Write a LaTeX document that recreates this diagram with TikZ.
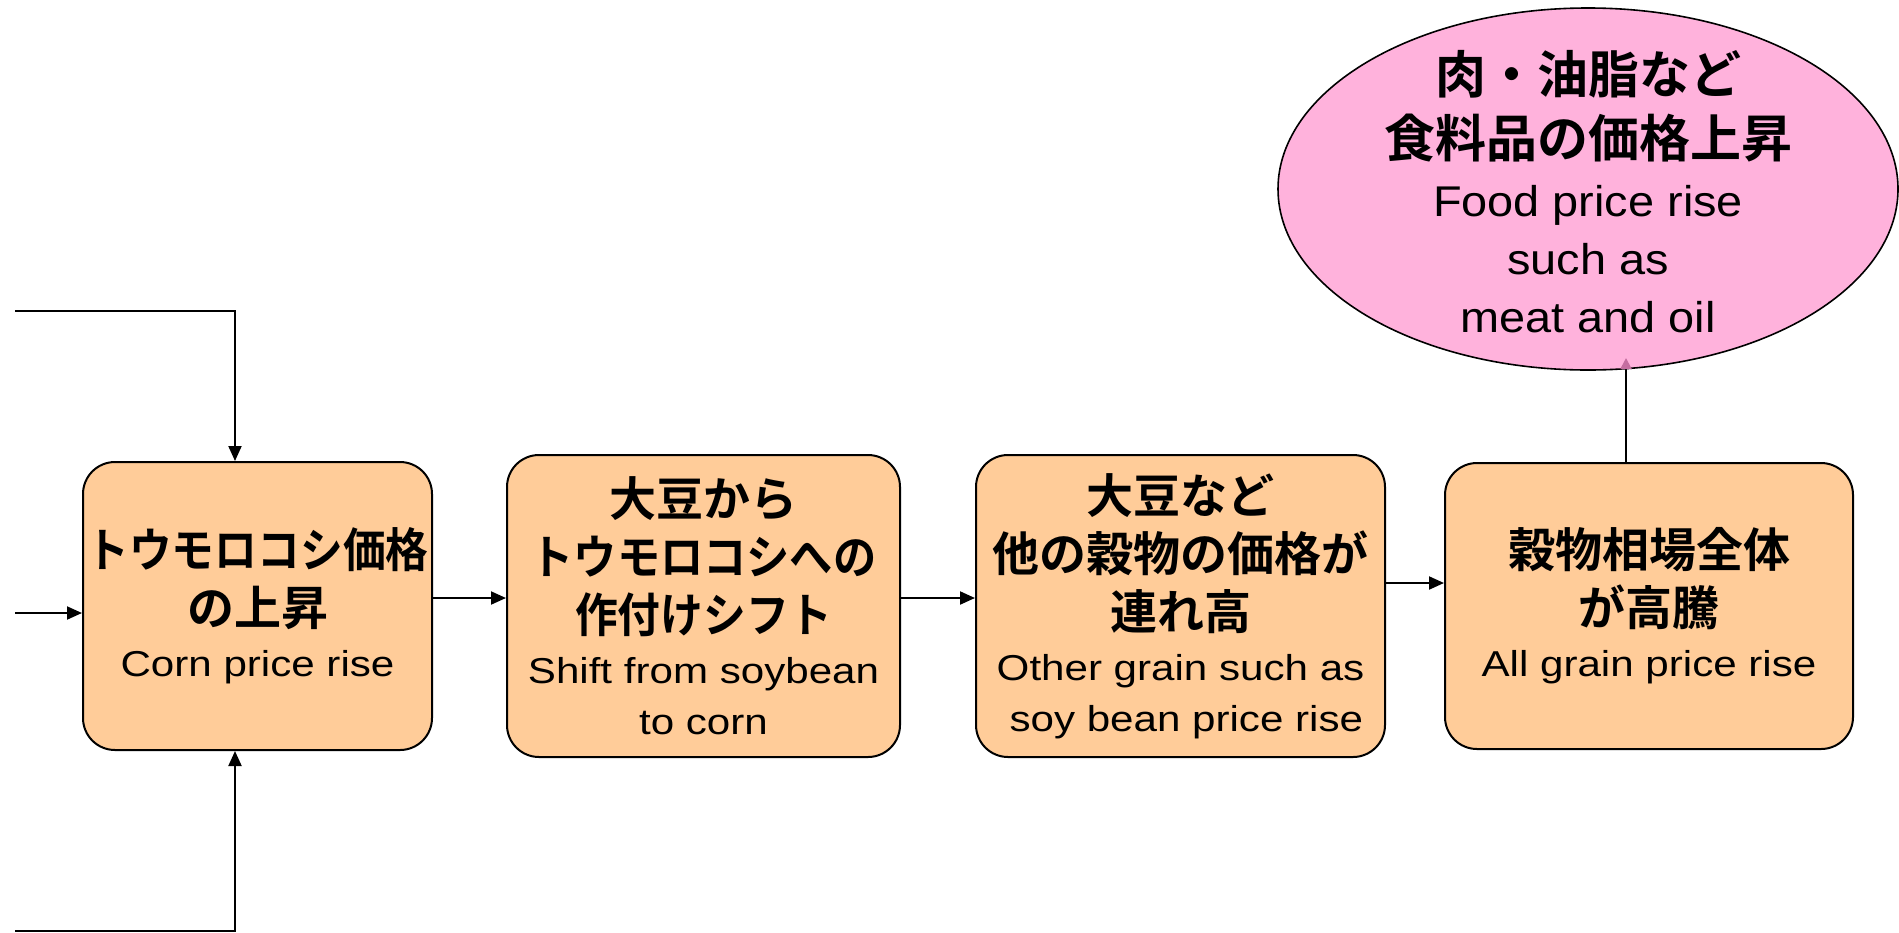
\documentclass[tikz,border=0pt]{standalone}
\usepackage{fontspec}
\setmainfont{Liberation Sans}
\newfontfamily\enbox{Liberation Sans}[FakeStretch=1.17]
\newfontfamily\enell{Liberation Sans}[FakeStretch=1.09]
\newfontfamily\jpfont{Noto Sans CJK JP}[BoldFont={Noto Sans CJK JP Bold}, CharacterWidth=Proportional]
\usetikzlibrary{arrows.meta,shapes.geometric,calc}
\definecolor{peach}{RGB}{255,204,153}
\definecolor{pinkfill}{RGB}{255,178,220}
\definecolor{tipcol}{RGB}{196,110,160}
\newcommand\jl{\jpfont\bfseries\fontsize{23.5pt}{29pt}\selectfont}
\newcommand\el{\enbox\mdseries\fontsize{18pt}{25pt}\selectfont}
\newcommand\jle{\jpfont\bfseries\fontsize{25.5pt}{32pt}\selectfont}
\newcommand\ele{\enell\mdseries\fontsize{21.5pt}{28.5pt}\selectfont}
\newcommand\nar[2]{\scalebox{#1}[1]{#2}}
\tikzset{
  box/.style={draw=black, line width=1pt, fill=peach, rounded corners=16pt,
    inner sep=0pt, align=center, font=\jl},
  food/.style={ellipse, draw=black, line width=0.8pt, fill=pinkfill,
    inner sep=0pt, minimum width=310pt, minimum height=181pt},
  foodtext/.style={align=center, inner sep=0pt, font=\jle},
  arr/.style={draw=black, line width=1pt, -{Triangle[length=7.5pt,width=6.5pt]}},
}
\begin{document}
\begin{tikzpicture}[x=0.5pt,y=-0.5pt]
\useasboundingbox (0,0) rectangle (1899,932);
\node[box, minimum width=174.5pt, minimum height=144pt] (b1) at (257.5,606)
  {\nar{0.91}{トウモロコシ価格}\\の上昇\\[-3.5pt]\el Corn price rise};
\node[box, minimum width=196.5pt, minimum height=151pt] (b2) at (703.5,606)
  {大豆から\\\nar{0.92}{トウモロコシへの}\\\nar{0.91}{作付けシフト}\\[-3.5pt]\el Shift from soybean\\[-3.5pt]\el to corn};
\node[box, minimum width=204.5pt, minimum height=151pt] (b3) at (1180.5,606)
  {大豆など\\他の穀物の価格が\\連れ高\\[-3.5pt]\el Other grain such as\\[-3.5pt]\el\ soy bean price rise};
\node[box, minimum width=204pt, minimum height=143pt] (b4) at (1649,606)
  {穀物相場全体\\が高騰\\[-3.5pt]\el All grain price rise};
\node[food] (f) at (1588,189) {};
\node[foodtext] (ft) at (1588,192)
  {肉・油脂など\\食料品の価格上昇\\[-2.5pt]\ele Food price rise\\[-3pt]\ele such as\\[-3pt]\ele meat and oil};
\coordinate (s1) at (15,311);
\coordinate (k1) at (235,311);
\draw[arr] (s1) -- (k1) -- (k1 |- b1.north);
\coordinate (s2) at (15,613);
\draw[arr] (s2) -- (s2 -| b1.west);
\coordinate (s3) at (15,931);
\coordinate (k3) at (235,931);
\draw[arr] (s3) -- (k3) -- (k3 |- b1.south);
\coordinate (y12) at (0,598);
\draw[arr] (y12 -| b1.east) -- (y12 -| b2.west);
\draw[arr] (y12 -| b2.east) -- (y12 -| b3.west);
\coordinate (y34) at (0,583);
\draw[arr] (y34 -| b3.east) -- (y34 -| b4.west);
\coordinate (k5) at (1626,358);
\draw[line width=1pt, -{Triangle[length=5.5pt,width=5.5pt,color=tipcol]}] (k5 |- b4.north) -- (k5);
\end{tikzpicture}
\end{document}
